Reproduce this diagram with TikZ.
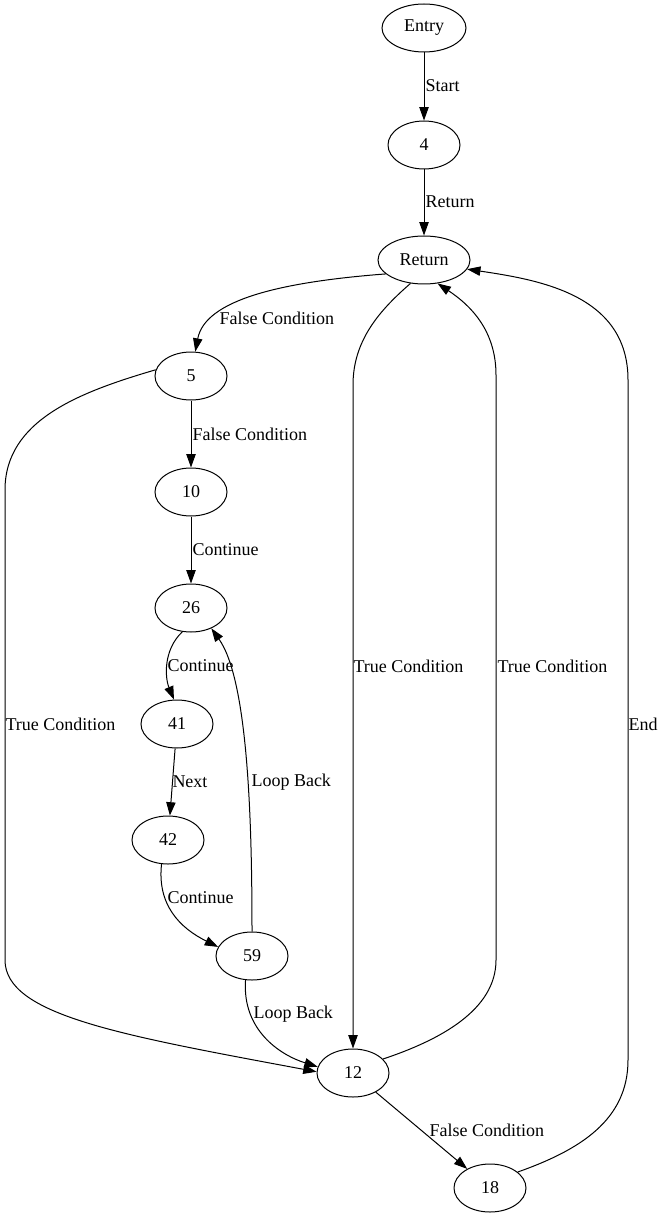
\documentclass[tikz,border=0pt]{standalone}
\usepackage{fontspec}
\setmainfont{Liberation Serif}
\usetikzlibrary{arrows.meta,shapes.geometric}

\begin{document}
\begin{tikzpicture}[x=0.75pt, y=-0.75pt, line width=0.75pt,
    >={Triangle[length=10pt,width=7pt]},
    state/.style={draw, ellipse, minimum width=54pt, minimum height=36pt,
                  inner sep=1pt, font=\fontsize{13.5}{16}\selectfont},
    lbl/.style={anchor=west, inner sep=0pt, font=\fontsize{13.5}{16}\selectfont}]
    % --- Frame ---
    \useasboundingbox (0,0) rectangle (663,1219);

    % --- States ---
    \node[state, minimum width=63pt] (entry) at (424,28) {Entry};
    \node[state] (n4) at (424,145) {4};
    \node[state, minimum width=69pt] (ret) at (424,260) {Return};
    \node[state] (n5) at (191,376) {5};
    \node[state] (n10) at (191,492) {10};
    \node[state] (n26) at (191,608) {26};
    \node[state] (n41) at (177,724) {41};
    \node[state] (n42) at (168,840) {42};
    \node[state] (n59) at (252,956) {59};
    \node[state] (n12) at (353,1073) {12};
    \node[state] (n18) at (490,1188) {18};

    % --- Main chain ---
    \draw[->] (entry) -- (n4) node[lbl] at (425,86) {Start};
    \draw[->] (n4) -- (ret) node[lbl] at (425,202) {Return};
    \draw[->] (ret.200) .. controls (280,282) and (205,300) .. (n5.80)
        node[lbl] at (219,318) {False Condition};
    \draw[->] (n5) -- (n10) node[lbl] at (192,434) {False Condition};
    \draw[->] (n10) -- (n26) node[lbl] at (192,550) {Continue};
    \draw[->] (n26.250) .. controls (163,650) and (165,678) .. (n41.97)
        node[lbl] at (167,666) {Continue};
    \draw[->] (n41) -- (n42) node[lbl] at (172,782) {Next};
    \draw[->] (n42.255) .. controls (157,905) and (180,928) .. (n59.165)
        node[lbl] at (167,898) {Continue};

    % --- Loops ---
    \draw[->] (n59.north) .. controls (252,820) and (248,680) .. (n26.315)
        node[lbl] at (251,782) {Loop Back};
    \draw[->] (n59.255) .. controls (242,1030) and (280,1055) .. (n12.170)
        node[lbl] at (253,1014) {Loop Back};

    % --- Long edges ---
    \draw[->] (n5.170) .. controls (80,392) and (5,420) .. (5,490) -- (5,960)
        .. controls (5,1015) and (120,1035) .. (n12.178)
        node[lbl] at (5,724) {True Condition};
    \draw[->] (ret.240) .. controls (380,310) and (353,340) .. (353,385)
        -- (n12.north) node[lbl] at (353,666) {True Condition};
    \draw[->] (n12.25) .. controls (440,1040) and (496,1010) .. (496,960)
        -- (496,375) .. controls (496,330) and (470,305) .. (ret.300)
        node[lbl] at (497,666) {True Condition};
    \draw[->] (n12) -- (n18) node[lbl] at (429,1130) {False Condition};
    \draw[->] (n18.30) .. controls (580,1150) and (628,1120) .. (628,1060)
        -- (628,380) .. controls (628,295) and (540,280) .. (ret.-12)
        node[lbl] at (628,724) {End};

\end{tikzpicture}
\end{document}
